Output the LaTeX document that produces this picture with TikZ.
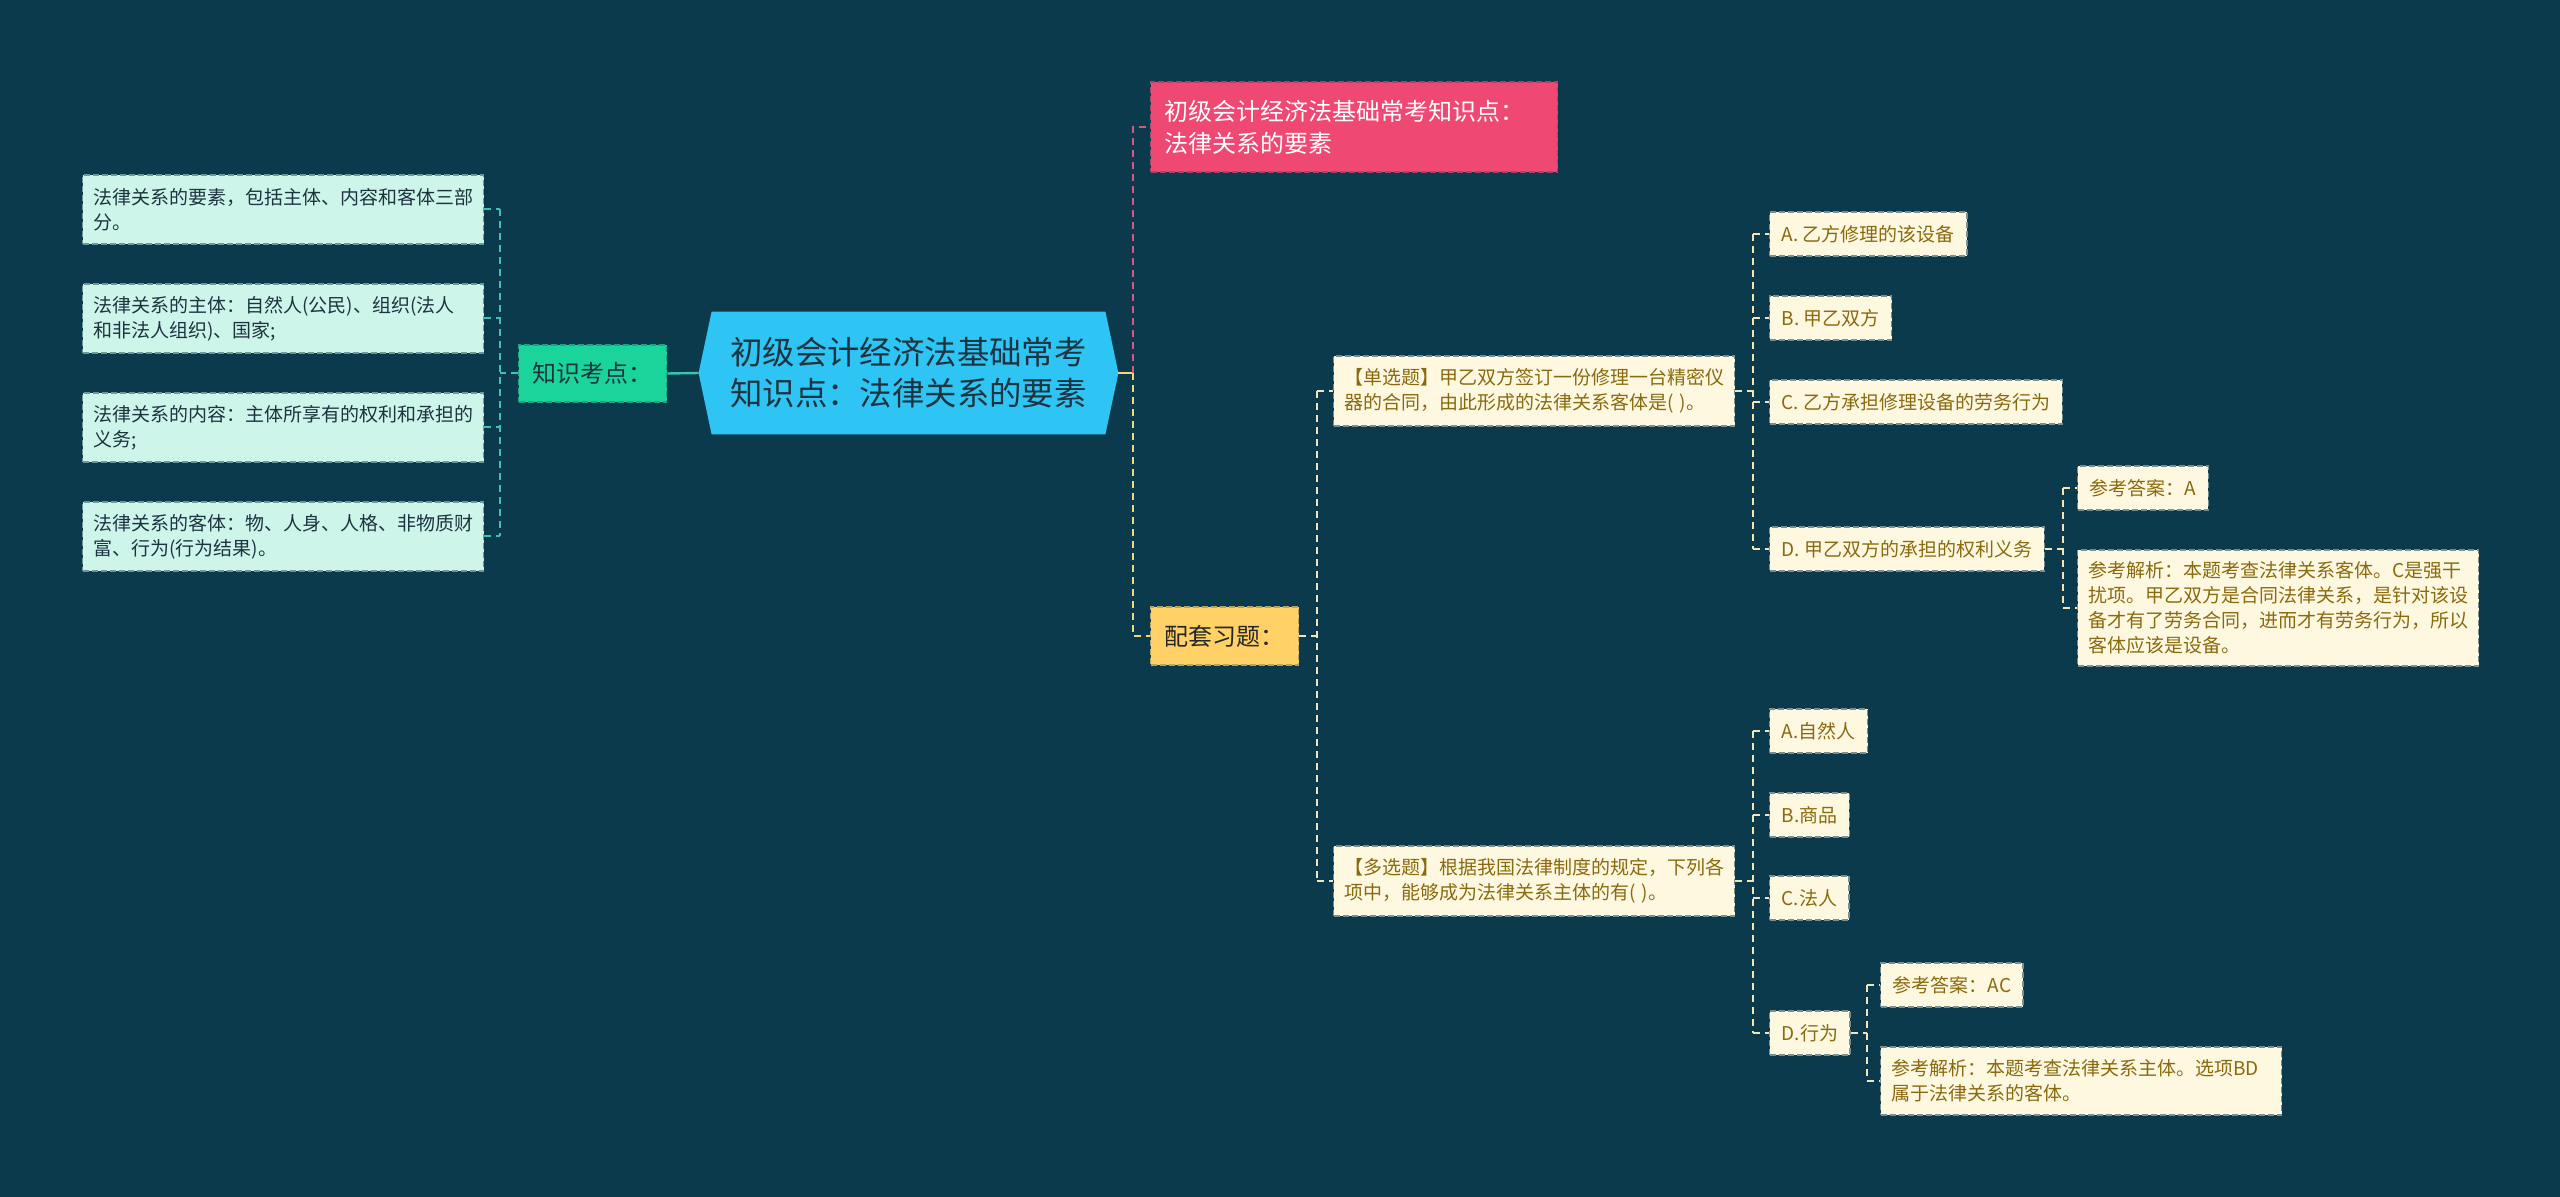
\documentclass[tikz,border=0pt]{standalone}
\usepackage{fontspec}
\setmainfont{Noto Sans CJK SC}
\usetikzlibrary{calc}

\pgfdeclarelayer{bg}
\pgfsetlayers{bg,main}

\definecolor{pagebg}{HTML}{0B3A4C}
\definecolor{mint}{HTML}{CDF5EA}
\definecolor{mintline}{HTML}{3CC4AE}
\definecolor{kpgreen}{HTML}{1BD49B}
\definecolor{corefill}{HTML}{2EC5F5}
\definecolor{pinkfill}{HTML}{EF4873}
\definecolor{pinkline}{HTML}{D4597F}
\definecolor{gold}{HTML}{FFD166}
\definecolor{goldline}{HTML}{F3D77B}
\definecolor{cream}{HTML}{FFF8E1}
\definecolor{creamline}{HTML}{F2E6B8}
\definecolor{creamtext}{HTML}{8A6A0E}
\definecolor{inktext}{HTML}{1E3340}

\begin{document}
\begin{tikzpicture}[x=0.5pt, y=-0.5pt]
        \tikzset{
            box/.style={dashed, dash pattern=on 3pt off 1.5pt, line width=0.7pt, anchor=west,
                inner xsep=5.25pt, inner ysep=3pt, align=left,
                font=\fontsize{9.5pt}{12.5pt}\selectfont},
            leafbox/.style={box, fill=mint, draw=mint!50!pagebg, text=inktext,
                text width=190pt, minimum height=34.5pt},
            quizbox/.style={box, fill=cream, draw=cream!45!pagebg, text=creamtext,
                text width=190pt, minimum height=35pt},
            optbox/.style={box, fill=cream, draw=cream!45!pagebg, text=creamtext,
                inner xsep=6pt, minimum height=22pt},
            headbox/.style={box, align=center, inner xsep=6pt, minimum width=74pt,
                minimum height=28.5pt, font=\fontsize{12pt}{14pt}\selectfont},
            corebox/.style={align=center, minimum width=196.5pt, minimum height=61pt,
                inner sep=0pt, text=inktext, font=\fontsize{16.2pt}{20.5pt}\selectfont},
            link/.style={line width=1pt, dash pattern=on 3.5pt off 2.5pt}
        }

        \begin{pgfonlayer}{bg}
            \fill[pagebg] (0,0) rectangle (2560,1197);
        \end{pgfonlayer}
        \useasboundingbox (0,0) rectangle (2560,1197);

        % centre
        \node[corebox] (core) at (908.5,373) {初级会计经济法基础常考\\知识点：法律关系的要素};
        \begin{pgfonlayer}{bg}
            \fill[corefill] (core.north west) -- (core.north east) -- ([xshift=6.5pt]core.east)
                -- (core.south east) -- (core.south west) -- ([xshift=-6.5pt]core.west) -- cycle;
        \end{pgfonlayer}

        % left branch
        \node[headbox, fill=kpgreen, draw=kpgreen!70!pagebg, text=inktext] (kp) at (518,373.5) {知识考点：};
        \node[leafbox] (l1) at (82,209.5) {法律关系的要素，包括主体、内容和客体三部\\分。};
        \node[leafbox] (l2) at (82,318.5) {法律关系的主体：自然人(公民)、组织(法人\\和非法人组织)、国家;};
        \node[leafbox] (l3) at (82,427.5) {法律关系的内容：主体所享有的权利和承担的\\义务;};
        \node[leafbox] (l4) at (82,536.5) {法律关系的客体：物、人身、人格、非物质财\\富、行为(行为结果)。};

        \draw[mintline, line width=1.2pt] ([xshift=-6.5pt]core.west) -- (kp.east);
        \coordinate (lbus) at ([xshift=-9pt]kp.west);
        \draw[link, mintline] (kp.west) -- (lbus);
        \draw[link, mintline] (lbus |- l1.east) -- (lbus |- l4.east);
        \foreach \n in {1,...,4} {
            \draw[link, mintline] (l\n.east) -- (lbus |- l\n.east);
        }

        % right branch
        \node[box, fill=pinkfill, draw=pinkfill!70!pagebg, text=white, text width=190pt,
            inner xsep=6.75pt, minimum height=45pt, font=\fontsize{12pt}{16pt}\selectfont]
            (title) at (1150,127) {初级会计经济法基础常考知识点：\\法律关系的要素};
        \node[headbox, fill=gold, draw=gold!70!pagebg, text=black!85, minimum height=29pt] (drill) at (1150,636) {配套习题：};

        \coordinate (rbus) at ($(core.east)+(14pt,0)$);
        \draw[goldline, line width=1.2pt] ([xshift=6.5pt]core.east) -- (rbus);
        \draw[link, pinkline] (rbus) |- (title.west);
        \draw[link, goldline] (rbus) |- (drill.west);

        % exercises
        \node[quizbox] (q1) at (1333,391) {【单选题】甲乙双方签订一份修理一台精密仪\\器的合同，由此形成的法律关系客体是( )。};
        \node[quizbox] (q2) at (1333,881) {【多选题】根据我国法律制度的规定，下列各\\项中，能够成为法律关系主体的有( )。};

        \coordinate (qbus) at ([xshift=9pt]drill.east);
        \draw[link, creamline] (drill.east) -- (qbus);
        \draw[link, creamline] (qbus |- q1.west) -- (qbus |- q2.west);
        \foreach \n in {q1,q2} {
            \draw[link, creamline] (qbus |- \n.west) -- (\n.west);
        }

        % single choice
        \node[optbox] (a1) at (1769,234) {A. 乙方修理的该设备};
        \node[optbox] (a2) at (1769,318) {B. 甲乙双方};
        \node[optbox] (a3) at (1769,402) {C. 乙方承担修理设备的劳务行为};
        \node[optbox] (a4) at (1769,549) {D. 甲乙双方的承担的权利义务};
        \node[optbox] (s1) at (2077,488) {参考答案：A};
        \node[quizbox, minimum height=58pt] (s2) at (2077,608) {参考解析：本题考查法律关系客体。C是强干\\扰项。甲乙双方是合同法律关系，是针对该设\\备才有了劳务合同，进而才有劳务行为，所以\\客体应该是设备。};

        \coordinate (abus) at ([xshift=9pt]q1.east);
        \draw[link, creamline] (q1.east) -- (abus);
        \draw[link, creamline] (abus |- a1.west) -- (abus |- a4.west);
        \foreach \n in {1,...,4} {
            \draw[link, creamline] (abus |- a\n.west) -- (a\n.west);
        }
        \coordinate (sbus) at ([xshift=9pt]a4.east);
        \draw[link, creamline] (a4.east) -- (sbus);
        \draw[link, creamline] (sbus |- s1.west) -- (sbus |- s2.west);
        \foreach \n in {1,2} {
            \draw[link, creamline] (sbus |- s\n.west) -- (s\n.west);
        }

        % multiple choice
        \node[optbox] (b1) at (1769,731) {A.自然人};
        \node[optbox] (b2) at (1769,815) {B.商品};
        \node[optbox] (b3) at (1769,898) {C.法人};
        \node[optbox] (b4) at (1769,1033) {D.行为};
        \node[optbox] (t1) at (1880,985) {参考答案：AC};
        \node[quizbox, minimum height=34pt] (t2) at (1880,1081) {参考解析：本题考查法律关系主体。选项BD\\属于法律关系的客体。};

        \coordinate (bbus) at ([xshift=9pt]q2.east);
        \draw[link, creamline] (q2.east) -- (bbus);
        \draw[link, creamline] (bbus |- b1.west) -- (bbus |- b4.west);
        \foreach \n in {1,...,4} {
            \draw[link, creamline] (bbus |- b\n.west) -- (b\n.west);
        }
        \coordinate (tbus) at ([xshift=8pt]b4.east);
        \draw[link, creamline] (b4.east) -- (tbus);
        \draw[link, creamline] (tbus |- t1.west) -- (tbus |- t2.west);
        \foreach \n in {1,2} {
            \draw[link, creamline] (tbus |- t\n.west) -- (t\n.west);
        }
    \end{tikzpicture}
\end{document}
